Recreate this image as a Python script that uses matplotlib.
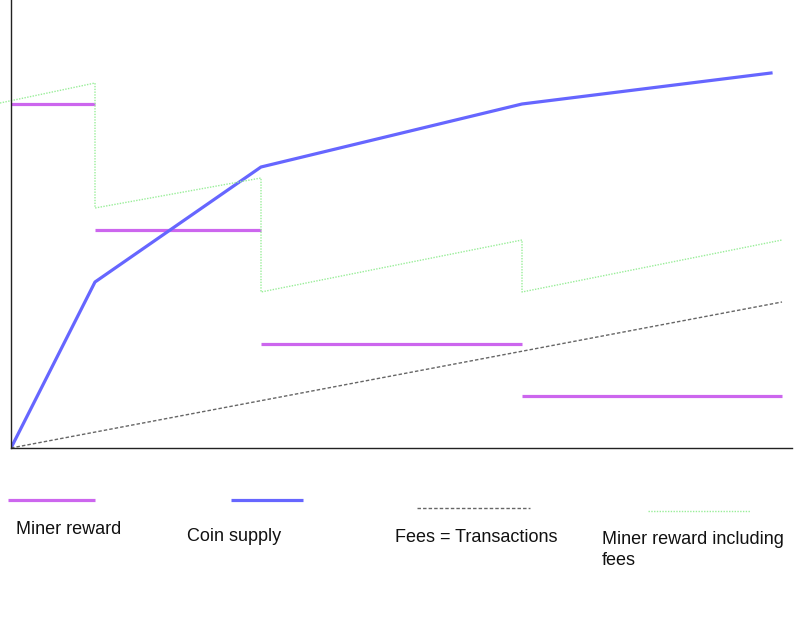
import matplotlib
matplotlib.use("Agg")
import matplotlib.pyplot as plt
from matplotlib.lines import Line2D

plt.rcParams['font.family'] = ['Liberation Sans', 'DejaVu Sans']

# Data (arbitrary units)
halving_x = [0, 84, 250, 511, 771]
miner_reward = [344, 218, 104, 52]

supply_x = [0, 84, 250, 511, 760]
supply_y = [0, 166, 281, 344, 375]

fees_x = [0, 771]
fees_y = [0, 146]

incl_x = [-11, 84, 84, 250, 250, 511, 511, 771]
incl_y = [345, 365, 240, 270, 156, 208, 156, 208]

legend_labels = ["Miner reward", "Coin supply", "Fees = Transactions",
                 "Miner reward including\nfees"]

W, H = 805, 621
fig = plt.figure(figsize=(W / 100, H / 100), dpi=100)
ax = fig.add_axes([11 / W, (H - 448) / H, 781 / W, 448 / H])
ax.set_xlim(0, 781)
ax.set_ylim(0, 448)

purple = '#cc66ee'
blue = '#6666ff'
gray = '#666666'
green = '#99ee99'

for i, r in enumerate(miner_reward):
    ax.plot([halving_x[i], halving_x[i + 1]], [r, r], color=purple, lw=2.3,
            solid_capstyle='butt')
ax.plot(supply_x, supply_y, color=blue, lw=2.3)
ax.plot(fees_x, fees_y, color=gray, lw=1.0, linestyle=(0, (2.5, 1.5)))
ax.plot(incl_x, incl_y, color=green, lw=1.0, linestyle=(0, (1, 1)),
        clip_on=False)

for s in ['top', 'right']:
    ax.spines[s].set_visible(False)
for s in ['left', 'bottom']:
    ax.spines[s].set_color('#222222')
    ax.spines[s].set_linewidth(1.0)
ax.set_xticks([])
ax.set_yticks([])

# Legend drawn in pixel coordinates
lax = fig.add_axes([0, 0, 1, 1])
lax.set_xlim(0, W)
lax.set_ylim(H, 0)
lax.axis('off')
samples = [
    dict(x=(8, 95), y=500, color=purple, lw=2.3, ls='-'),
    dict(x=(231, 303), y=500, color=blue, lw=2.3, ls='-'),
    dict(x=(417, 530), y=508, color=gray, lw=1.0, ls=(0, (2.5, 1.5))),
    dict(x=(648, 750), y=511, color=green, lw=1.0, ls=(0, (1, 1))),
]
text_pos = [(16, 521), (187, 528), (395, 529), (602, 531)]
for s, lab, (tx, ty) in zip(samples, legend_labels, text_pos):
    lax.add_line(Line2D(list(s['x']), [s['y'], s['y']], color=s['color'],
                        lw=s['lw'], linestyle=s['ls'], solid_capstyle='butt'))
    lax.text(tx, ty, lab, fontsize=13, color='#111111', va='top', ha='left',
             linespacing=1.3)

fig.savefig("out.png", dpi=100)
